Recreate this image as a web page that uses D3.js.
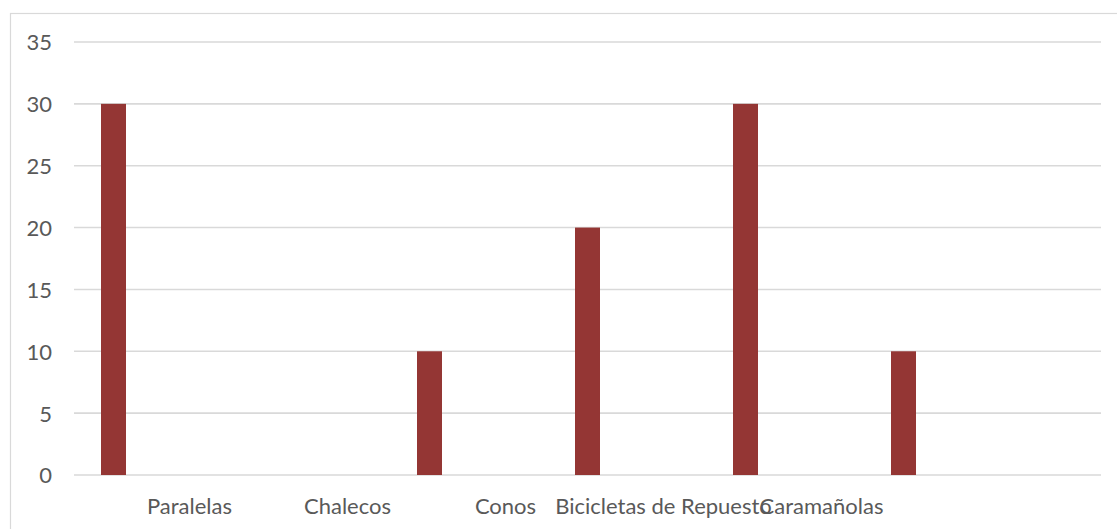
<!DOCTYPE html>
<html>
<head>
<meta charset="utf-8">
<script src="https://cdn.jsdelivr.net/npm/d3@7"></script>
<style>
  html, body { margin: 0; padding: 0; background: #fff; }
  svg { display: block; }
</style>
</head>
<body>
<svg id="chart" width="1117" height="529"></svg>
<script>
// Category slots (blank slots carry no label) and their stock counts
const categories = ["", "Paralelas", "", "Chalecos", "", "Conos", "", "Bicicletas de Repuesto", "", "Caramañolas", "", "", ""];
const values = [30, 0, 0, 0, 10, 0, 20, 0, 30, 0, 10, 0, 0];
const yTicks = [0, 5, 10, 15, 20, 25, 30, 35];

const svg = d3.select("#chart");
const W = 1117, H = 529;
const plot = { left: 74, right: 1101, top: 42, bottom: 475 };
const font = "Lato, 'Open Sans', sans-serif";
const textColor = "#595959";
const gridColor = "#d9d9d9";
const barColor = "#943634";

// Chart frame
svg.append("rect")
  .attr("x", 10.5).attr("y", 13.5)
  .attr("width", W + 20).attr("height", H + 20)
  .attr("fill", "#fff")
  .attr("stroke", gridColor).attr("stroke-width", 1.2);

const idx = categories.map((_, i) => i);
const pad = 1 - 25 / 79;
const x = d3.scaleBand()
  .domain(idx)
  .range([plot.left, plot.right])
  .paddingInner(pad)
  .paddingOuter(pad / 2);

const y = d3.scaleLinear()
  .domain([0, 35])
  .range([plot.bottom, plot.top]);

// Horizontal gridlines
svg.append("g")
  .selectAll("line")
  .data(yTicks)
  .join("line")
  .attr("x1", plot.left).attr("x2", plot.right)
  .attr("y1", d => y(d)).attr("y2", d => y(d))
  .attr("stroke", gridColor).attr("stroke-width", 1.6);

// Value axis labels
const yAxis = d3.axisLeft(y).tickValues(yTicks).tickSize(0).tickPadding(0);
const gy = svg.append("g")
  .attr("transform", `translate(52,0)`)
  .call(yAxis);
gy.select(".domain").remove();
gy.selectAll("text")
  .attr("font-family", font)
  .attr("font-size", 22)
  .attr("fill", textColor)
  .attr("dy", "0.36em");

// Bars
svg.append("g")
  .selectAll("rect")
  .data(values.map((v, i) => ({ i, v })).filter(d => d.v > 0))
  .join("rect")
  .attr("x", d => x(d.i))
  .attr("width", x.bandwidth())
  .attr("y", d => y(d.v))
  .attr("height", d => y(0) - y(d.v))
  .attr("fill", barColor);

// Category axis labels
const xAxis = d3.axisBottom(x).tickSize(0).tickPadding(0)
  .tickFormat(i => categories[i]);
const gx = svg.append("g")
  .attr("transform", `translate(-3,514)`)
  .call(xAxis);
gx.select(".domain").remove();
gx.selectAll("text")
  .attr("font-family", font)
  .attr("font-size", 22)
  .attr("fill", textColor)
  .attr("dy", 0)
  .attr("y", 0);
</script>
</body>
</html>
